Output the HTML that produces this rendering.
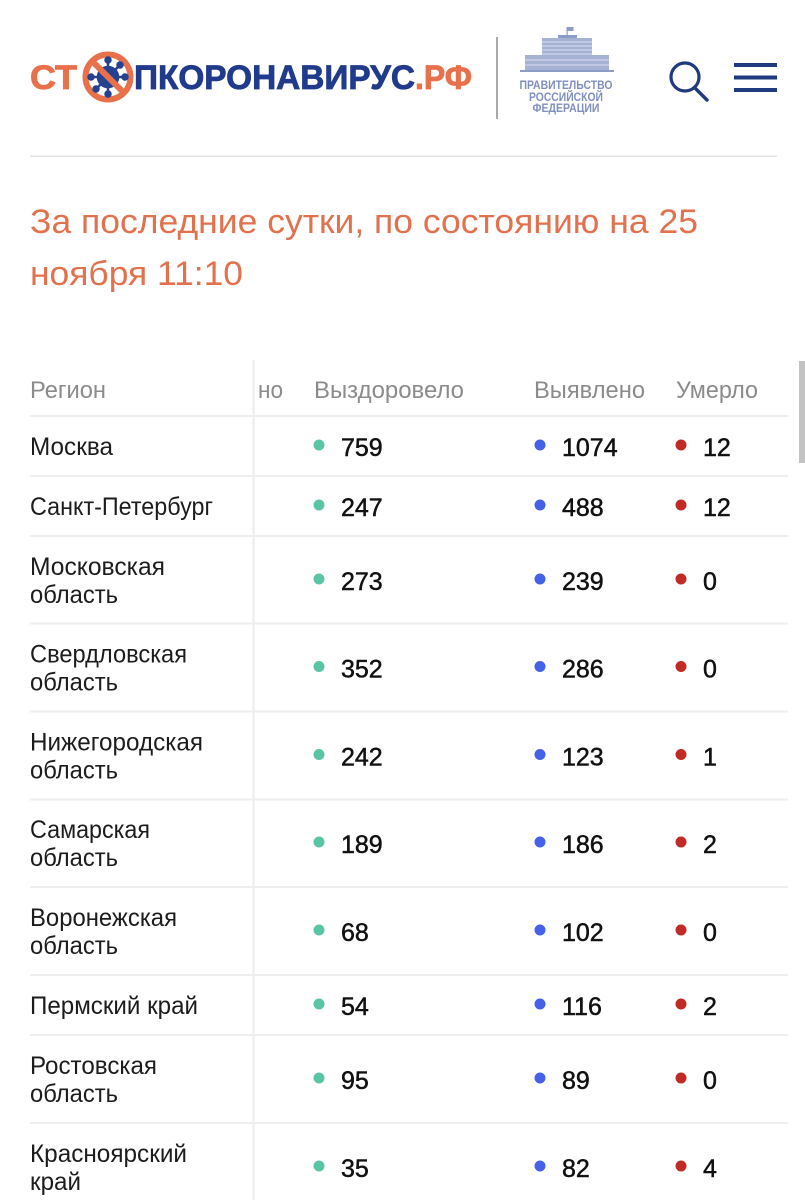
<!DOCTYPE html>
<html><head><meta charset="utf-8"><style>
html,body{margin:0;padding:0;background:#fff;}
body{width:805px;height:1200px;overflow:hidden;position:relative;font-family:"Liberation Sans","Noto Sans CJK SC",sans-serif;}
svg{position:absolute;left:0;top:0;}
.rg{font-size:25px;fill:#1c1c1c;}
.hd{font-size:24px;fill:#8b8b8b;}
.nm{font-size:25px;fill:#111;stroke:#111;stroke-width:0.5px;}
</style></head><body>
<svg width="805" height="1200" viewBox="0 0 805 1200" xmlns="http://www.w3.org/2000/svg" font-family="Liberation Sans, sans-serif">
<!-- Logo -->
<text x="30" y="89" font-size="34" font-weight="bold" fill="#e8704a" stroke="#e8704a" stroke-width="0.8" textLength="47" lengthAdjust="spacingAndGlyphs">СТ</text>
<g>
  <circle cx="108" cy="77" r="22.5" fill="none" stroke="#e8704a" stroke-width="6"/>
  <g fill="#24428f" stroke="#24428f" stroke-width="2.5" stroke-linecap="round">
    <circle cx="108" cy="77" r="10"/>
    <line x1="108" y1="77" x2="108" y2="60"/><line x1="108" y1="77" x2="108" y2="94"/>
    <line x1="108" y1="77" x2="91" y2="77"/><line x1="108" y1="77" x2="125" y2="77"/>
    <line x1="108" y1="77" x2="96" y2="65"/><line x1="108" y1="77" x2="120" y2="89"/>
    <line x1="108" y1="77" x2="120" y2="65"/><line x1="108" y1="77" x2="96" y2="89"/>
    <circle cx="108" cy="60" r="2.5"/><circle cx="108" cy="94" r="2.5"/><circle cx="91" cy="77" r="2.5"/><circle cx="125" cy="77" r="2.5"/>
    <circle cx="120" cy="65" r="2.5"/><circle cx="96" cy="89" r="2.5"/>
  </g>
  <line x1="92" y1="61" x2="124" y2="93" stroke="#e8704a" stroke-width="6"/>
</g>
<text x="134" y="89" font-size="34" font-weight="bold" fill="#203a8c" stroke="#203a8c" stroke-width="0.8" textLength="281" lengthAdjust="spacingAndGlyphs">ПКОРОНАВИРУС</text>
<text x="415" y="89" font-size="34" font-weight="bold" fill="#e8704a" stroke="#e8704a" stroke-width="0.8" textLength="57" lengthAdjust="spacingAndGlyphs">.РФ</text>
<!-- divider -->
<rect x="496" y="37" width="2" height="82" fill="#a9a9a9"/>
<!-- gov building -->
<g fill="#8d9cc6">
  <rect x="566.5" y="27" width="1.2" height="9"/>
  <rect x="567.5" y="27" width="6" height="4"/>
  <rect x="558" y="35" width="19" height="3"/>
  <rect x="542" y="38" width="50" height="19" fill="#a6b2d4"/>
  <rect x="525" y="55" width="84" height="15" fill="#a6b2d4"/>
  <rect x="520" y="70" width="94" height="2"/>
</g>
<g stroke="#ffffff" stroke-width="0.8" opacity="0.8">
  <line x1="542" y1="42" x2="592" y2="42"/><line x1="542" y1="46" x2="592" y2="46"/><line x1="542" y1="50" x2="592" y2="50"/><line x1="542" y1="54" x2="592" y2="54"/>
  <line x1="525" y1="60" x2="609" y2="60"/><line x1="525" y1="65" x2="609" y2="65"/>
</g>
<g font-weight="bold" fill="#7f90c0" font-size="12" text-anchor="middle">
<text x="566" y="89" textLength="93" lengthAdjust="spacingAndGlyphs">ПРАВИТЕЛЬСТВО</text>
<text x="566" y="101" textLength="74" lengthAdjust="spacingAndGlyphs">РОССИЙСКОЙ</text>
<text x="566" y="112" textLength="67" lengthAdjust="spacingAndGlyphs">ФЕДЕРАЦИИ</text>
</g>
<!-- search -->
<circle cx="685" cy="77" r="14" fill="none" stroke="#1f3a7e" stroke-width="3.2"/>
<line x1="695" y1="88" x2="707" y2="100" stroke="#1f3a7e" stroke-width="3.4" stroke-linecap="round"/>
<!-- hamburger -->
<rect x="734" y="63" width="43" height="4" fill="#1f3a7e"/>
<rect x="734" y="75.5" width="43" height="4" fill="#1f3a7e"/>
<rect x="734" y="88" width="43" height="4" fill="#1f3a7e"/>
<!-- header line -->
<rect x="30" y="155.5" width="747" height="1.5" fill="#e3e3e3"/>
<!-- title -->
<g font-size="34" fill="#e2714e">
<text x="30" y="233" textLength="668" lengthAdjust="spacingAndGlyphs">За последние сутки, по состоянию на 25</text>
<text x="30" y="285" textLength="213" lengthAdjust="spacingAndGlyphs">ноября 11:10</text>
</g>
<!-- table lines -->
<rect x="252.5" y="360" width="2" height="840" fill="#ececec"/>
<g fill="#eeeeee">
<rect x="30" y="415" width="758" height="2"/>
<rect x="30" y="475" width="758" height="2"/>
<rect x="30" y="535" width="758" height="2"/>
<rect x="30" y="622.5" width="758" height="2"/>
<rect x="30" y="710.5" width="758" height="2"/>
<rect x="30" y="798.5" width="758" height="2"/>
<rect x="30" y="886" width="758" height="2"/>
<rect x="30" y="974" width="758" height="2"/>
<rect x="30" y="1034" width="758" height="2"/>
<rect x="30" y="1122" width="758" height="2"/>
</g>
<!-- scrollbar -->
<rect x="799" y="361" width="6" height="102" fill="#c3c3c3"/>
<!-- headers -->
<g class="hd">
<text class="hd" x="30" y="398" textLength="76" lengthAdjust="spacingAndGlyphs">Регион</text>
<text class="hd" x="258" y="398" textLength="25" lengthAdjust="spacingAndGlyphs">но</text>
<text class="hd" x="314" y="398" textLength="150" lengthAdjust="spacingAndGlyphs">Выздоровело</text>
<text class="hd" x="534" y="398" textLength="111" lengthAdjust="spacingAndGlyphs">Выявлено</text>
<text class="hd" x="676" y="398" textLength="82" lengthAdjust="spacingAndGlyphs">Умерло</text>
</g>
<!-- region names -->
<g class="rg">
<text class="rg" x="30" y="455" textLength="83" lengthAdjust="spacingAndGlyphs">Москва</text>
<text class="rg" x="30" y="515" textLength="183" lengthAdjust="spacingAndGlyphs">Санкт-Петербург</text>
<text class="rg" x="30" y="575" textLength="135" lengthAdjust="spacingAndGlyphs">Московская</text>
<text class="rg" x="30" y="603" textLength="88" lengthAdjust="spacingAndGlyphs">область</text>
<text class="rg" x="30" y="662.5" textLength="157" lengthAdjust="spacingAndGlyphs">Свердловская</text>
<text class="rg" x="30" y="690.5" textLength="88" lengthAdjust="spacingAndGlyphs">область</text>
<text class="rg" x="30" y="750.5" textLength="173" lengthAdjust="spacingAndGlyphs">Нижегородская</text>
<text class="rg" x="30" y="778.5" textLength="88" lengthAdjust="spacingAndGlyphs">область</text>
<text class="rg" x="30" y="838" textLength="120" lengthAdjust="spacingAndGlyphs">Самарская</text>
<text class="rg" x="30" y="866" textLength="88" lengthAdjust="spacingAndGlyphs">область</text>
<text class="rg" x="30" y="926" textLength="147" lengthAdjust="spacingAndGlyphs">Воронежская</text>
<text class="rg" x="30" y="954" textLength="88" lengthAdjust="spacingAndGlyphs">область</text>
<text class="rg" x="30" y="1014" textLength="168" lengthAdjust="spacingAndGlyphs">Пермский край</text>
<text class="rg" x="30" y="1074" textLength="127" lengthAdjust="spacingAndGlyphs">Ростовская</text>
<text class="rg" x="30" y="1102" textLength="88" lengthAdjust="spacingAndGlyphs">область</text>
<text class="rg" x="30" y="1162" textLength="157" lengthAdjust="spacingAndGlyphs">Красноярский</text>
<text class="rg" x="30" y="1190" textLength="51" lengthAdjust="spacingAndGlyphs">край</text>
</g>
<!-- dots -->
<g fill="#5bc4a6">
<circle cx="319" cy="445" r="5.5"/><circle cx="319" cy="505" r="5.5"/><circle cx="319" cy="579" r="5.5"/><circle cx="319" cy="666.5" r="5.5"/><circle cx="319" cy="754.5" r="5.5"/><circle cx="319" cy="842" r="5.5"/><circle cx="319" cy="930" r="5.5"/><circle cx="319" cy="1004" r="5.5"/><circle cx="319" cy="1078" r="5.5"/><circle cx="319" cy="1166" r="5.5"/>
</g>
<g fill="#4461e8">
<circle cx="540" cy="445" r="5.5"/><circle cx="540" cy="505" r="5.5"/><circle cx="540" cy="579" r="5.5"/><circle cx="540" cy="666.5" r="5.5"/><circle cx="540" cy="754.5" r="5.5"/><circle cx="540" cy="842" r="5.5"/><circle cx="540" cy="930" r="5.5"/><circle cx="540" cy="1004" r="5.5"/><circle cx="540" cy="1078" r="5.5"/><circle cx="540" cy="1166" r="5.5"/>
</g>
<g fill="#c02c25">
<circle cx="681" cy="445" r="5.5"/><circle cx="681" cy="505" r="5.5"/><circle cx="681" cy="579" r="5.5"/><circle cx="681" cy="666.5" r="5.5"/><circle cx="681" cy="754.5" r="5.5"/><circle cx="681" cy="842" r="5.5"/><circle cx="681" cy="930" r="5.5"/><circle cx="681" cy="1004" r="5.5"/><circle cx="681" cy="1078" r="5.5"/><circle cx="681" cy="1166" r="5.5"/>
</g>
<!-- numbers -->
<g class="nm">
<text class="nm" x="341" y="456">759</text><text class="nm" x="562" y="456">1074</text><text class="nm" x="703" y="456">12</text>
<text class="nm" x="341" y="516">247</text><text class="nm" x="562" y="516">488</text><text class="nm" x="703" y="516">12</text>
<text class="nm" x="341" y="590">273</text><text class="nm" x="562" y="590">239</text><text class="nm" x="703" y="590">0</text>
<text class="nm" x="341" y="677.5">352</text><text class="nm" x="562" y="677.5">286</text><text class="nm" x="703" y="677.5">0</text>
<text class="nm" x="341" y="765.5">242</text><text class="nm" x="562" y="765.5">123</text><text class="nm" x="703" y="765.5">1</text>
<text class="nm" x="341" y="853">189</text><text class="nm" x="562" y="853">186</text><text class="nm" x="703" y="853">2</text>
<text class="nm" x="341" y="941">68</text><text class="nm" x="562" y="941">102</text><text class="nm" x="703" y="941">0</text>
<text class="nm" x="341" y="1015">54</text><text class="nm" x="562" y="1015">116</text><text class="nm" x="703" y="1015">2</text>
<text class="nm" x="341" y="1089">95</text><text class="nm" x="562" y="1089">89</text><text class="nm" x="703" y="1089">0</text>
<text class="nm" x="341" y="1177">35</text><text class="nm" x="562" y="1177">82</text><text class="nm" x="703" y="1177">4</text>
</g>
</svg>
</body></html>
